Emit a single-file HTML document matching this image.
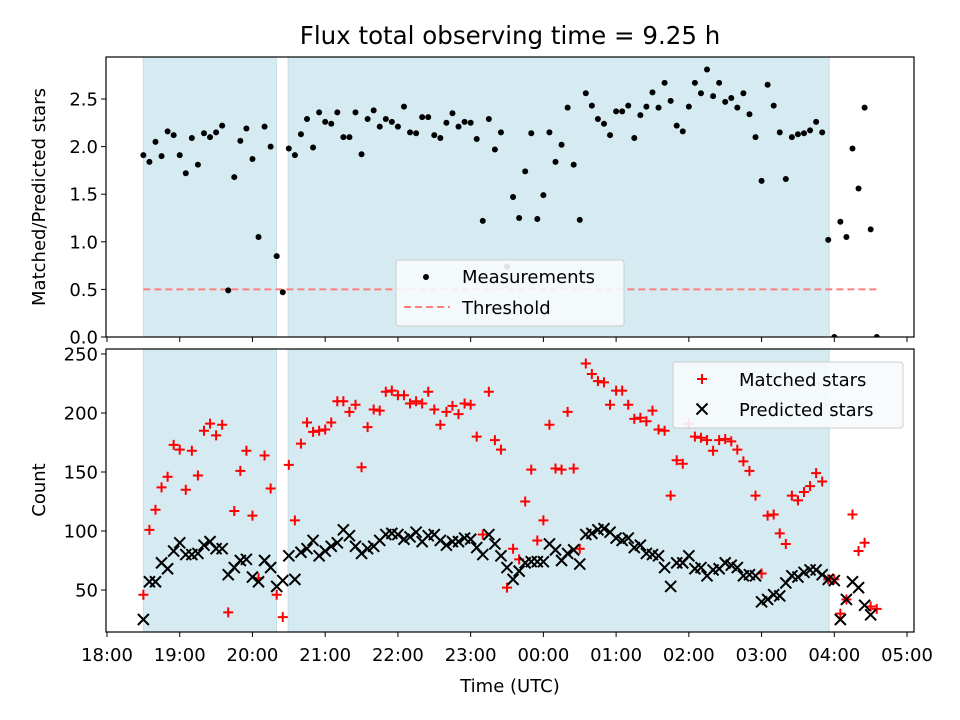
<!DOCTYPE html>
<html><head><meta charset="utf-8"><style>
body{margin:0;background:#fff;}
svg{display:block;font-family:"DejaVu Sans","Liberation Sans",sans-serif;}
</style></head><body>
<svg id="chart" width="960" height="720" viewBox="0 0 960 720" xmlns="http://www.w3.org/2000/svg"></svg>
<script>
const ratioValues=[1.91,1.84,2.05,1.90,2.16,2.12,1.91,1.72,2.09,1.81,2.14,2.10,2.15,2.22,0.49,1.68,2.06,2.19,1.87,1.05,2.21,2.00,0.85,0.47,
1.98,1.91,2.13,2.29,1.99,2.36,2.26,2.24,2.36,2.10,2.10,2.36,1.92,2.29,2.38,2.21,2.29,2.26,2.21,2.42,2.15,2.14,2.31,2.31,2.12,2.09,2.25,2.35,2.21,2.26,
2.25,2.08,1.22,2.29,1.97,2.15,0.74,1.47,1.25,1.74,2.14,1.24,1.49,2.15,1.84,2.02,2.41,1.81,1.23,2.56,2.43,2.29,2.24,2.12,2.37,2.37,2.43,2.09,2.33,2.42,
2.57,2.41,2.67,2.48,2.22,2.16,2.42,2.67,2.56,2.81,2.53,2.67,2.47,2.51,2.41,2.56,2.34,2.10,1.64,2.65,2.43,2.15,1.66,2.10,2.13,2.14,2.17,2.26,2.15,1.02,
0.0,1.21,1.05,1.98,1.56,2.41,1.13,0.0];
const matchedValues=[46,101,118,137,146,173,169,135,168,147,185,191,181,190,31,117,151,168,113,60,164,136,46,27,
156,109,174,192,184,185,186,192,210,210,201,207,154,188,203,202,218,219,215,215,
208,210,208,218,203,190,201,206,199,208,207,180,97,218,177,169,52,85,76,125,152,92,109,190,153,152,201,153,85,242,233,227,226,207,219,219,207,195,196,193,202,186,185,130,160,
157,191,180,179,177,168,177,178,176,169,159,151,130,64,113,114,98,89,130,126,133,138,149,142,59,59,30,42,114,83,90,36,34];
const predictedValues=[25,57,57,73,68,83,90,80,80,81,88,91,85,85,63,69,75,76,61,57,75,69,53,58,
79,59,82,85,92,79,83,87,90,101,96,87,81,85,87,92,97,98,97,93,
95,99,91,96,97,92,88,91,91,94,93,86,80,97,89,79,69,59,66,73,74,74,74,89,84,75,81,84,72,97,98,101,102,99,94,92,94,86,88,81,80,79,69,53,73,
73,79,68,69,62,67,68,73,71,69,62,63,62,40,42,46,45,56,62,61,65,67,67,63,59,58,25,42,57,52,37,29,null];
const startHour=18.5, stepMinutes=5;
const spans=[[18.5,20.33],[20.49,27.93]];
const threshold=0.5;
const xTickHours=[18,19,20,21,22,23,24,25,26,27,28,29];
const xTickLabels=["18:00","19:00","20:00","21:00","22:00","23:00","00:00","01:00","02:00","03:00","04:00","05:00"];
const topTicks=[0,0.5,1.0,1.5,2.0,2.5];
const topTickLabels=["0.0","0.5","1.0","1.5","2.0","2.5"];
const botTicks=[50,100,150,200,250];
const botTickLabels=["50","100","150","200","250"];

const NS="http://www.w3.org/2000/svg";
const svg=document.getElementById('chart');
const L=106,R=914,T1=57,B1=337,T2=349,B2=632;
const FS='18';
const X=h=>107+(h-18)*72.73;
const Y1=v=>337-v*95.2;
const Y2=v=>354+(250-v)*1.18;
function el(tag,attrs,parent){const e=document.createElementNS(NS,tag);for(const k in attrs)e.setAttribute(k,attrs[k]);(parent||svg).appendChild(e);return e;}
function txt(s,attrs,parent){const e=el('text',attrs,parent);e.textContent=s;return e;}
const tAt=i=>startHour+i*stepMinutes/60;

const defs=el('defs',{});
const c1=el('clipPath',{id:'c1'},defs);el('rect',{x:L,y:T1,width:R-L,height:B1-T1},c1);
const c2=el('clipPath',{id:'c2'},defs);el('rect',{x:L,y:T2,width:R-L,height:B2-T2},c2);

txt('Flux total observing time = 9.25 h',{x:510,y:44,'font-size':'24.5','text-anchor':'middle',fill:'#000',});

function panel(top,bot,clip,name){
  const g=el('g',{'clip-path':'url(#'+clip+')'});
  
  
  spans.forEach(s=>{
    const r=el('rect',{x:X(s[0]),y:top,width:X(s[1])-X(s[0]),height:bot-top,fill:'#d5eaf1',stroke:'#c3e0ea','stroke-width':1},g);
    
    
  });
  return g;
}
const g1=panel(T1,B1,'c1','top');
const g2=panel(T2,B2,'c2','bottom');

const th=el('line',{x1:X(tAt(0)),x2:X(tAt(ratioValues.length-1)),y1:Y1(threshold),y2:Y1(threshold),stroke:'#ff7f7f','stroke-width':2,'stroke-dasharray':'7,4'},g1);



ratioValues.forEach((v,i)=>{
  const c=el('circle',{cx:X(tAt(i)),cy:Y1(v),r:3,fill:'#000'},g1);
  
  
});
function plus(x,y,s,col,parent){return el('path',{d:`M${x-s},${y}H${x+s}M${x},${y-s}V${y+s}`,stroke:col,'stroke-width':2,fill:'none'},parent);}
function cross(x,y,s,col,parent){return el('path',{d:`M${x-s},${y-s}L${x+s},${y+s}M${x-s},${y+s}L${x+s},${y-s}`,stroke:col,'stroke-width':2,fill:'none'},parent);}
matchedValues.forEach((v,i)=>{
  if(v==null)return;
  const p=plus(X(tAt(i)),Y2(v),5,'#ff0000',g2);
  
  
});
predictedValues.forEach((v,i)=>{
  if(v==null)return;
  const p=cross(X(tAt(i)),Y2(v),5.5,'#000',g2);
  
  
});

[[T1,B1,'top-axes-frame'],[T2,B2,'bottom-axes-frame']].forEach(a=>{
  const r=el('rect',{x:L,y:a[0],width:R-L,height:a[1]-a[0],fill:'none',stroke:'#000','stroke-width':1.2});
  
  
});
xTickHours.forEach((h,i)=>{
  const x=X(h);
  el('line',{x1:x,x2:x,y1:B1,y2:B1+5,stroke:'#000','stroke-width':1});
  el('line',{x1:x,x2:x,y1:B2,y2:B2+5,stroke:'#000','stroke-width':1});
  const t=txt(xTickLabels[i],{x:x,y:B2+29,'font-size':FS,'text-anchor':'middle',fill:'#000'});
  
  
});
topTicks.forEach((v,i)=>{
  const y=Y1(v);
  el('line',{x1:L-5,x2:L,y1:y,y2:y,stroke:'#000','stroke-width':1});
  const t=txt(topTickLabels[i],{x:L-8,y:y+6.5,'font-size':FS,'text-anchor':'end',fill:'#000'});
  
  
});
botTicks.forEach((v,i)=>{
  const y=Y2(v);
  el('line',{x1:L-5,x2:L,y1:y,y2:y,stroke:'#000','stroke-width':1});
  const t=txt(botTickLabels[i],{x:L-8,y:y+6.5,'font-size':FS,'text-anchor':'end',fill:'#000'});
  
  
});
txt('Matched/Predicted stars',{x:0,y:0,transform:'translate(45,197) rotate(-90)','font-size':FS,'text-anchor':'middle',fill:'#000',});
txt('Count',{x:0,y:0,transform:'translate(45,490) rotate(-90)','font-size':FS,'text-anchor':'middle',fill:'#000',});
txt('Time (UTC)',{x:510,y:692,'font-size':FS,'text-anchor':'middle',fill:'#000',});

const lg1=el('g',{});
el('rect',{x:396,y:260,width:228,height:66,rx:3,fill:'#f7fbfd','fill-opacity':0.9,stroke:'#cccccc'},lg1);
el('circle',{cx:426,cy:277,r:3,fill:'#000'},lg1);
txt('Measurements',{x:462,y:283,'font-size':FS,fill:'#000'},lg1);
el('line',{x1:404,x2:450,y1:307,y2:307,stroke:'#ff7f7f','stroke-width':2,'stroke-dasharray':'7,4'},lg1);
txt('Threshold',{x:462,y:314,'font-size':FS,fill:'#000'},lg1);

const lg2=el('g',{});
el('rect',{x:673,y:362,width:230,height:66,rx:3,fill:'#f7fbfd','fill-opacity':0.9,stroke:'#cccccc'},lg2);
plus(702,379,5,'#ff0000',lg2);
txt('Matched stars',{x:739,y:386,'font-size':FS,fill:'#000'},lg2);
cross(702,409,5.5,'#000',lg2);
txt('Predicted stars',{x:739,y:416,'font-size':FS,fill:'#000'},lg2);
</script>
</body></html>
